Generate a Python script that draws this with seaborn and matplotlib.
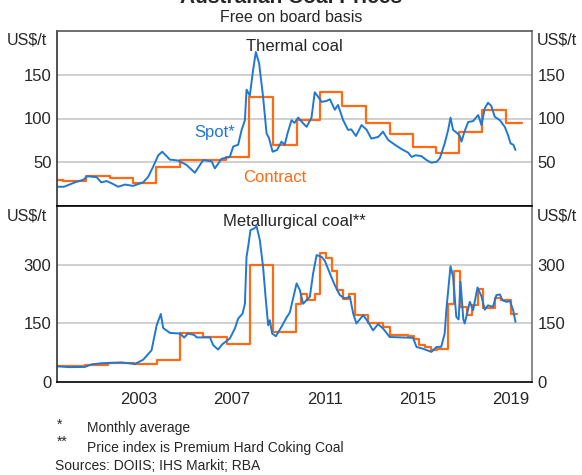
import matplotlib
matplotlib.use("Agg")
import matplotlib.pyplot as plt
import pandas as pd
import seaborn as sns

# Thermal coal, US$/t (decimal years)
thermal_spot_t = [2000.05, 2000.3, 2000.77, 2001.13, 2001.3, 2001.7, 2001.9, 2002.13, 2002.34, 2002.63,
                  2002.92, 2003.27, 2003.7, 2003.92, 2004.13, 2004.35, 2004.52, 2004.85, 2005.2, 2005.56,
                  2005.92, 2006.28, 2006.64, 2006.78, 2007.07, 2007.42, 2007.57, 2007.78, 2007.93, 2008.07,
                  2008.14, 2008.28, 2008.42, 2008.54, 2008.68, 2008.85, 2009.0, 2009.1, 2009.26, 2009.45,
                  2009.64, 2009.78, 2009.9, 2010.07, 2010.2, 2010.36, 2010.57, 2010.72, 2010.93, 2011.07,
                  2011.21, 2011.36, 2011.57, 2011.72, 2011.93, 2012.07, 2012.29, 2012.5, 2012.64, 2012.84,
                  2013.08, 2013.3, 2013.5, 2013.8, 2014.0, 2014.22, 2014.51, 2014.8, 2015.08, 2015.23,
                  2015.4, 2015.65, 2015.87, 2016.08, 2016.3, 2016.44, 2016.65, 2016.8, 2016.9, 2017.01,
                  2017.2, 2017.3, 2017.37, 2017.5, 2017.66, 2017.87, 2018.09, 2018.23, 2018.37, 2018.51,
                  2018.65, 2018.8, 2019.02, 2019.23, 2019.37, 2019.48, 2019.6, 2019.69]
thermal_spot_v = [22, 22, 27, 30, 34, 33, 27, 28.5, 26, 22,
                  24.5, 23, 27, 33.5, 45, 58, 62, 53, 52, 47,
                  38, 52.5, 51, 43, 54, 56, 68, 70, 87, 98,
                  133, 126, 155, 176, 163, 125, 83, 78, 62, 64,
                  73.5, 70, 83, 98, 95, 101, 94.5, 90.5, 101, 130,
                  125, 119, 120, 122, 110, 115.5, 98, 87, 87.5, 80,
                  92.5, 87, 77, 79, 85, 75.5, 70, 65, 61, 56,
                  58, 57, 52.5, 49.5, 50.5, 54.5, 71.5, 87, 101, 87,
                  83, 80, 73.5, 85, 96, 97, 104, 92.5, 111.5, 118,
                  114.5, 102, 98, 90.5, 81, 71.5, 70, 64]
thermal_contract_t = [2000.0, 2000.25, 2001.24, 2002.27, 2003.27, 2004.25, 2005.28, 2007.25, 2008.25, 2009.26,
                      2010.29, 2011.29, 2012.26, 2013.29, 2014.29, 2015.29, 2016.27, 2017.27, 2018.27, 2019.3,
                      2019.97]
thermal_contract_v = [30, 29, 34.5, 31.5, 26.7, 45, 52.5, 55.5, 125, 70,
                      98, 130, 114.5, 95, 82, 68, 61, 85, 110, 95,
                      95]

# Metallurgical coal, US$/t
met_spot_t = [2000.05, 2000.5, 2001.2, 2001.48, 2001.91, 2002.77, 2003.34, 2003.7, 2004.06, 2004.28,
              2004.46, 2004.56, 2004.85, 2005.28, 2005.46, 2005.63, 2005.9, 2006.0, 2006.57, 2006.71,
              2006.92, 2007.1, 2007.42, 2007.64, 2007.78, 2007.97, 2008.07, 2008.14, 2008.22, 2008.31,
              2008.48, 2008.57, 2008.71, 2008.85, 2008.97, 2009.07, 2009.14, 2009.24, 2009.4, 2009.64,
              2009.86, 2010.0, 2010.29, 2010.43, 2010.57, 2010.86, 2011.0, 2011.15, 2011.36, 2011.5,
              2011.72, 2011.93, 2012.15, 2012.36, 2012.58, 2012.72, 2012.86, 2013.15, 2013.36, 2013.57,
              2013.79, 2014.0, 2014.29, 2015.29, 2015.44, 2015.72, 2016.08, 2016.3, 2016.5, 2016.65,
              2016.72, 2016.9, 2017.01, 2017.15, 2017.25, 2017.33, 2017.45, 2017.51, 2017.73, 2017.87,
              2018.06, 2018.23, 2018.37, 2018.51, 2018.72, 2018.87, 2019.02, 2019.13, 2019.3, 2019.45,
              2019.59, 2019.69]
met_spot_v = [40, 38, 38.5, 45, 48, 50, 46, 57, 81, 145,
              174, 138, 125.5, 124, 113.7, 124, 120, 114, 114, 94,
              83, 96.5, 111, 137, 162, 175, 200, 320, 350, 388.5,
              393, 398.7, 363, 294.5, 209, 145, 158, 124, 117, 141,
              165, 178, 252, 235, 200, 218, 277.6, 324.5, 320, 310,
              277.6, 247.6, 222, 213.6, 217.7, 175, 149.6, 171, 153.7, 132,
              147.8, 137, 115, 113, 89.6, 85, 77, 89.6, 90, 124,
              183.6, 296, 269, 166.5, 160, 256, 160, 149.6, 205, 183.6,
              241.7, 219, 185, 196, 192, 222, 224, 209, 205, 207,
              183.6, 153.7]
met_contract_t = [2000.0, 2001.2, 2002.2, 2003.3, 2004.28, 2005.28, 2006.28, 2007.28, 2008.28, 2009.26,
                  2010.27, 2010.5, 2010.72, 2011.07, 2011.29, 2011.55, 2011.79, 2012.03, 2012.29, 2012.53,
                  2012.79, 2013.36, 2014.0, 2014.29, 2015.08, 2015.34, 2015.54, 2015.8, 2016.06, 2016.3,
                  2016.8, 2017.05, 2017.3, 2017.59, 2017.83, 2018.09, 2018.3, 2018.8, 2019.09, 2019.48,
                  2019.76]
met_contract_v = [41, 43, 49, 45, 57, 125.5, 115, 98, 300, 128,
                  200, 224, 209, 224, 330, 316, 284, 235, 211, 224,
                  171, 150, 141, 121, 118, 109, 94, 90, 81, 85.5,
                  200, 284, 192, 171, 196, 239, 188, 214, 210, 175,
                  175]

year_labels = ["2003", "2007", "2011", "2015", "2019"]

BLUE = "#1f78d1"
ORANGE = "#ff6a13"

sns.set_style("white")
plt.rcParams["font.family"] = ["Liberation Sans", "DejaVu Sans"]

W, H = 582, 475
fig = plt.figure(figsize=(W / 100, H / 100), dpi=100)


def fx(px):
    return px / W


def fy(py):
    return 1 - py / H


left, right = 57, 532
ax_top = fig.add_axes([fx(left), fy(206), fx(right - left), fy(31) - fy(206)])
ax_bot = fig.add_axes([fx(left), fy(382), fx(right - left), fy(206) - fy(382)])

panels = [
    (ax_top, thermal_spot_t, thermal_spot_v, thermal_contract_t, thermal_contract_v, (0, 200), [50, 100, 150]),
    (ax_bot, met_spot_t, met_spot_v, met_contract_t, met_contract_v, (0, 450), [0, 150, 300]),
]

for ax, st, sv, ct, cv, ylim, yticks in panels:
    spot = pd.DataFrame({"year": st, "value": sv})
    contract = pd.DataFrame({"year": ct, "value": cv})
    for y in yticks:
        if y > 0:
            ax.axhline(y, color="#c4c4c4", lw=1.1, zorder=0)
    sns.lineplot(data=contract, x="year", y="value", ax=ax, color=ORANGE, lw=1.6,
                 drawstyle="steps-post", estimator=None, sort=False)
    sns.lineplot(data=spot, x="year", y="value", ax=ax, color=BLUE, lw=1.4,
                 estimator=None, sort=False)
    ax.set_xlim(2000.0, 2020.4)
    ax.set_ylim(*ylim)
    ax.set_yticks(yticks)
    ax.set_xlabel("")
    ax.set_ylabel("")
    ax.tick_params(axis="y", length=0, labelsize=12, labelleft=True, labelright=True, pad=4)
    for s in ax.spines.values():
        s.set_color("#333333")
        s.set_linewidth(1.2)
    ax.spines["right"].set_color("#777777")

ax_top.set_xticks([])
ax_top.spines["top"].set_color("#555555")
ax_bot.spines["top"].set_color("black")
ax_bot.spines["bottom"].set_color("black")

ax_bot.set_xticks(list(range(2001, 2021)))
ax_bot.set_xticklabels([])
ax_bot.tick_params(axis="x", which="major", direction="in", length=7, width=1.1, color="#333333")
ax_bot.set_xticks([int(y) + 0.5 for y in year_labels], minor=True)
ax_bot.set_xticklabels(year_labels, minor=True)
ax_bot.tick_params(axis="x", which="minor", length=0, labelsize=12, pad=7)

ax_top.text(0.5, 0.91, "Thermal coal", transform=ax_top.transAxes, ha="center", va="center", fontsize=12)
ax_bot.text(0.5, 0.91, "Metallurgical coal**", transform=ax_bot.transAxes, ha="center", va="center", fontsize=12)
ax_top.text(2006.75, 84, "Spot*", color=BLUE, ha="center", va="center", fontsize=12)
ax_top.text(2009.35, 32, "Contract", color=ORANGE, ha="center", va="center", fontsize=12)

fig.text(0.5, fy(3), "Australian Coal Prices", ha="center", va="baseline", fontsize=15, fontweight="bold")
fig.text(0.5, fy(18), "Free on board basis", ha="center", va="center", fontsize=11.5)
for py in (40, 216):
    fig.text(fx(47), fy(py), "US$/t", ha="right", va="center", fontsize=11.5)
    fig.text(fx(537), fy(py), "US$/t", ha="left", va="center", fontsize=11.5)

fig.text(fx(57), fy(425), "*", ha="left", va="center", fontsize=10)
fig.text(fx(87), fy(428), "Monthly average", ha="left", va="center", fontsize=10)
fig.text(fx(57), fy(442), "**", ha="left", va="center", fontsize=10)
fig.text(fx(87), fy(448), "Price index is Premium Hard Coking Coal", ha="left", va="center", fontsize=10)
fig.text(fx(55), fy(466), "Sources: DOIIS; IHS Markit; RBA", ha="left", va="center", fontsize=10)

fig.savefig("out.png", dpi=100)
